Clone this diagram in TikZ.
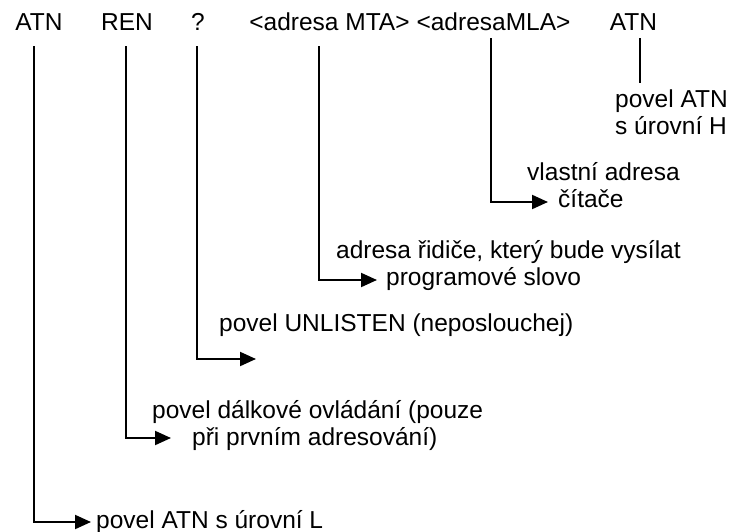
\documentclass[tikz,border=0pt]{standalone}
\usepackage{fontspec}
\setmainfont{Liberation Sans}
\usetikzlibrary{arrows.meta}
\begin{document}
\begin{tikzpicture}[x=1pt,y=-1pt,
  txt/.style={font=\fontsize{24.5}{27}\selectfont, inner sep=0pt, anchor=base, align=center},
  ltxt/.style={txt, anchor=base west, align=left},
  conn/.style={line width=2pt, line cap=rect},
  arr/.style={conn, -{Triangle[length=16pt,width=14pt]}}]
\useasboundingbox (0,0) rectangle (736,532);
% top row
\node[txt] (a1) at (39,31) {ATN};
\node[txt] (ren) at (127,31) {REN};
\node[txt] (q) at (198,31) {?};
\node[txt] (mta) at (329.5,31) {<adresa MTA>};
\node[txt] (mla) at (493.5,31) {<adresaMLA>};
\node[txt] (a2) at (633.5,31) {ATN};
% descriptions (base = last line)
\node[ltxt] (tH) at (615,135) {povel ATN\\s úrovní H};
\node[ltxt] (tMLA) at (527,207) {vlastní adresa\\\hspace*{31pt}čítače};
\node[ltxt] (tMTA) at (336,285) {adresa řidiče, který bude vysílat\\\hspace*{50pt}programové slovo};
\node[ltxt] (tUN) at (219,331) {povel UNLISTEN (neposlouchej)};
\node[ltxt] (tREN) at (152,445) {povel dálkové ovládání (pouze\\\hspace*{40pt}při prvním adresování)};
\node[ltxt] (tL) at (96,528) {povel ATN s úrovní L};
% arrow ends
\coordinate (e1) at (91,522);
\coordinate (e2) at (171,438);
\coordinate (e3) at (256,359);
\coordinate (e4) at (377,280);
\coordinate (e5) at (548,202);
\coordinate (e6) at (640,82);
% connectors
\draw[arr] ([xshift=-5pt,yshift=-16pt]a1.base) |- (e1);
\draw[arr] ([xshift=-1pt,yshift=-16pt]ren.base) |- (e2);
\draw[arr] ([xshift=-1pt,yshift=-16pt]q.base) |- (e3);
\draw[arr] ([xshift=-11pt,yshift=-16pt]mta.base) |- (e4);
\draw[arr] ([xshift=-2.5pt,yshift=-8pt]mla.base) |- (e5);
\draw[conn] (e6 |- a2.base) ++(0,8) -- (e6);
\end{tikzpicture}
\end{document}
